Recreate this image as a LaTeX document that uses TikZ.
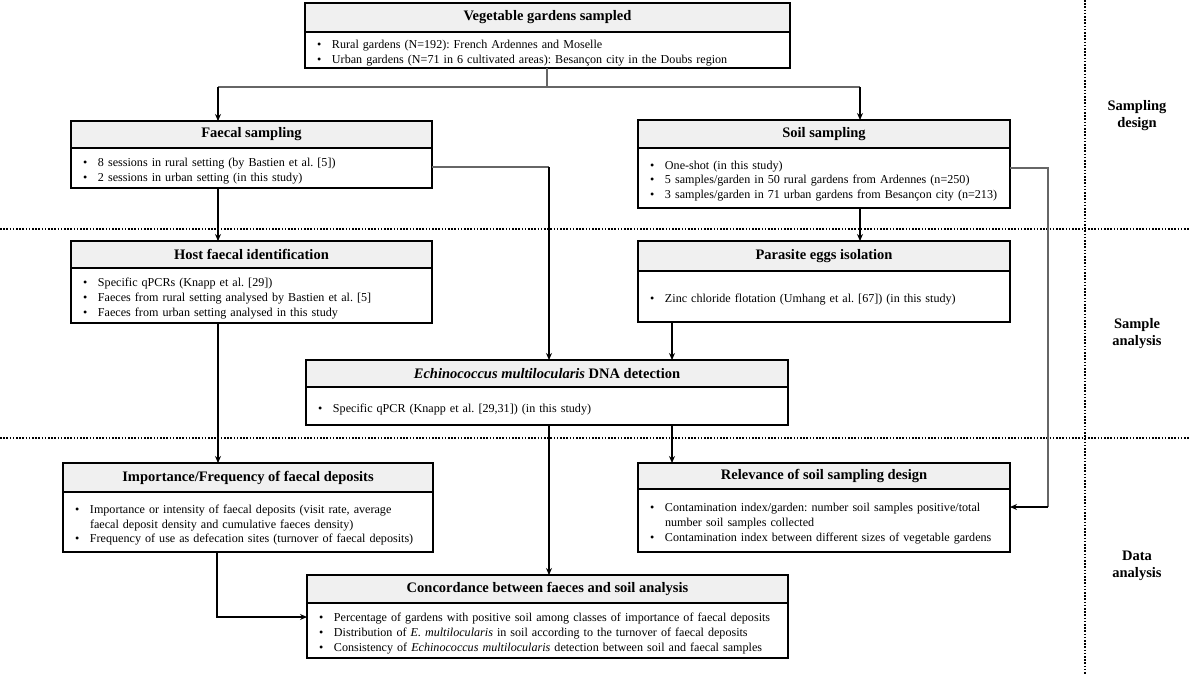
\documentclass[tikz,border=0pt]{standalone}
\usepackage{fontspec}
\setmainfont{Liberation Serif}
\usetikzlibrary{arrows.meta}
\frenchspacing
\newcommand\itm[1]{\par\noindent\hangindent=27pt\hangafter=1\makebox[27pt][l]{\hspace{12pt}•}#1}
\newcommand\mkbox[8]{%
  \pgfmathsetmacro\bw{#3-#2}\pgfmathsetmacro\hh{#5-#4}\pgfmathsetmacro\bh{#6-#5}%
  \node[bdy, minimum width=\bw pt, minimum height=\bh pt, text width=\bw pt, anchor=north west] (#1B) at (#2,#5) {\raggedright #8};
  \node[hdr, minimum width=\bw pt, minimum height=\hh pt, anchor=north west] (#1H) at (#2,#4) {#7};
}
\begin{document}
\begin{tikzpicture}[x=1pt,y=-1pt,
  hdr/.style={draw, line width=2pt, fill=gray!12, inner sep=0pt, outer sep=0pt, font=\bfseries\fontsize{14.5}{17}\selectfont},
  bdy/.style={draw, line width=2pt, fill=white, inner sep=0pt, outer sep=0pt, font=\fontsize{12.1}{14.6}\selectfont},
  arr/.style={-{Stealth[length=7pt,width=6pt]}, line width=1.1pt, black},
  gline/.style={line width=1.1pt, black!60},
  dots/.style={line width=2pt, dash pattern=on 1.6pt off 1.6pt},
  lab/.style={font=\bfseries\fontsize{14.5}{17}\selectfont, align=center}]
\fill[white] (0,0) rectangle (1200,675);
\useasboundingbox (0,0) rectangle (1200,675);

% dotted separators
\draw[dots] (0,229) -- (1190,229);
\draw[dots] (0,438) -- (1190,438);
\draw[dots] (1085,0) -- (1085,675);

\node[lab] (lab1) at (1137,116) {Sampling\\design};
\node[lab] (lab2) at (1137,334) {Sample\\analysis};
\node[lab] (lab3) at (1137,566) {Data\\analysis};

\mkbox{top}{305}{790}{3}{32}{68}{Vegetable gardens sampled}{%
  \itm{Rural gardens (N=192): French Ardennes and Moselle}%
  \itm{Urban gardens (N=71 in 6 cultivated areas): Besançon city in the Doubs region}}

\mkbox{faecal}{71}{432}{121}{148}{188}{Faecal sampling}{%
  \itm{8 sessions in rural setting (by Bastien et al. [5])}%
  \itm{2 sessions in urban setting (in this study)}}

\mkbox{soil}{638}{1010}{120}{148}{208}{Soil sampling}{%
  \itm{One-shot (in this study)}%
  \itm{5 samples/garden in 50 rural gardens from Ardennes (n=250)}%
  \itm{3 samples/garden in 71 urban gardens from Besançon city (n=213)}}

\mkbox{host}{71}{432}{241}{268}{323}{Host faecal identification}{%
  \itm{Specific qPCRs (Knapp et al. [29])}%
  \itm{Faeces from rural setting analysed by Bastien et al. [5]}%
  \itm{Faeces from urban setting analysed in this study}}

\mkbox{par}{638}{1010}{241}{271}{322}{Parasite eggs isolation}{%
  \itm{Zinc chloride flotation (Umhang et al. [67]) (in this study)}}

\mkbox{ech}{306}{788}{360}{387}{425}{\textit{Echinococcus multilocularis} DNA detection}{%
  \itm{Specific qPCR (Knapp et al. [29,31]) (in this study)}}

\mkbox{imp}{63}{433}{463}{492}{552}{Importance/Frequency of faecal deposits}{%
  \itm{Importance or intensity of faecal deposits (visit rate, average\newline faecal deposit density and cumulative faeces density)}%
  \itm{Frequency of use as defecation sites (turnover of faecal deposits)}}

\mkbox{rel}{638}{1010}{463}{489}{552}{Relevance of soil sampling design}{%
  \itm{Contamination index/garden: number soil samples positive/total\newline number soil samples collected}%
  \itm{Contamination index between different sizes of vegetable gardens}}

\mkbox{con}{307}{788}{575}{603}{658}{Concordance between faeces and soil analysis}{%
  \itm{Percentage of gardens with positive soil among classes of importance of faecal deposits}%
  \itm{Distribution of \textit{E. multilocularis} in soil according to the turnover of faecal deposits}%
  \itm{Consistency of \textit{Echinococcus multilocularis} detection between soil and faecal samples}}

% connectors
\coordinate (j1) at (547,87);
\coordinate (j1L) at (218,87);
\coordinate (j1R) at (860,87);
\coordinate (c2) at (549,167);
\coordinate (c3) at (672,0);
\coordinate (c4) at (1048,168);
\coordinate (c5) at (1048,507);
\coordinate (c6) at (217,617);

\draw[gline] (topB.south -| j1) -- (j1);
\draw[gline] (j1L) -- (j1R);
\draw[arr] (j1L) -- (faecalH.north -| j1L);
\draw[arr] (j1R) -- (soilH.north -| j1R);
\draw[arr] (faecalB.south -| j1L) -- (hostH.north -| j1L);
\draw[arr] (soilB.south -| j1R) -- (parH.north -| j1R);
\draw[gline] (faecalB.east |- c2) -- (c2);
\draw[arr] (c2) -- (echH.north -| c2);
\draw[arr] (parB.south -| c3) -- (echH.north -| c3);
\draw[arr] (hostB.south -| j1L) -- (impH.north -| j1L);
\draw[arr] (echB.south -| c3) -- (relH.north -| c3);
\draw[arr] (echB.south -| c2) -- (conH.north -| c2);
\draw[gline] (soilB.east |- c4) -- (c4) -- (c5);
\draw[arr] (c5) -- (relB.east |- c5);
\draw[arr] (impB.south -| c6) -- (c6) -- (conB.west |- c6);
\end{tikzpicture}
\end{document}
